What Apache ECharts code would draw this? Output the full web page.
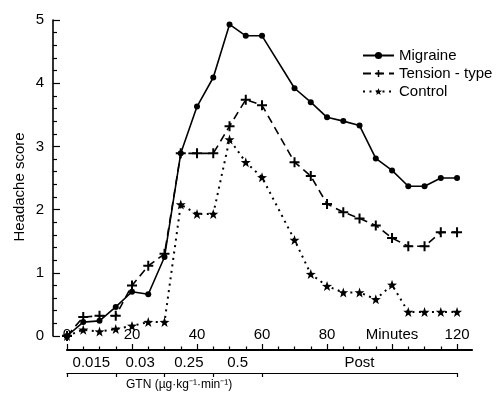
<!DOCTYPE html>
<html>
<head>
<meta charset="utf-8">
<script src="https://cdn.jsdelivr.net/npm/echarts@6/dist/echarts.min.js"></script>
<style>
html, body { margin: 0; padding: 0; background: #fff; }
#chart { width: 500px; height: 397px; }
</style>
</head>
<body>
<div id="chart"></div>
<script>
// minutes after start of the GTN infusion
var minutes = [0, 5, 10, 15, 20, 25, 30, 35, 40, 45, 50, 55, 60, 70, 75, 80, 85, 90, 95, 100, 105, 110, 115, 120];

var migraine = [0, 0.22, 0.24, 0.46, 0.70, 0.66, 1.25, 2.89, 3.63, 4.09, 4.93, 4.75, 4.75, 3.92, 3.70, 3.46, 3.40, 3.33, 2.81, 2.62, 2.37, 2.37, 2.50, 2.50];
var tension  = [0, 0.30, 0.32, 0.32, 0.80, 1.11, 1.30, 2.89, 2.89, 2.89, 3.32, 3.74, 3.65, 2.75, 2.53, 2.09, 1.96, 1.86, 1.75, 1.55, 1.42, 1.42, 1.64, 1.64];
var control  = [0, 0.10, 0.07, 0.11, 0.16, 0.22, 0.22, 2.08, 1.93, 1.93, 3.11, 2.75, 2.51, 1.52, 0.98, 0.79, 0.69, 0.69, 0.58, 0.81, 0.38, 0.38, 0.38, 0.38];

var majorTicks = [0, 20, 40, 60, 80, 100, 120];
var minorTicks = [5, 10, 15, 25, 30, 35, 45, 50, 55, 65, 70, 75, 85, 90, 95, 105, 110, 115];

// GTN dose periods
var doseBounds = [0, 15, 30, 45, 60, 120];
var doseCenters = [7.5, 22.5, 37.5, 52.5, 90];
var doseLabels = ['0.015', '0.03', '0.25', '0.5', 'Post'];

function pairs(vals) {
	var out = [];
	for (var i = 0; i < minutes.length; i++) {
		out.push([minutes[i], vals[i]]);
	}
	return out;
}

var font = 'Liberation Sans';
var starPath = 'path://M0,-100L23.5,-32.4L95.1,-30.9L38,12.4L58.8,80.9L0,40L-58.8,80.9L-38,12.4L-95.1,-30.9L-23.5,-32.4Z';
var plusPath = 'path://M4,0H6V4H10V6H6V10H4V6H0V4H4Z';
var black = { color: '#000', width: 1.2 };

function hiddenAxis(type, grid, min, max) {
	return { type: type, gridIndex: grid, min: min, max: max, show: false };
}

var myChart = echarts.init(document.getElementById('chart'));

var option = {
	animation: false,
	backgroundColor: '#fff',
	textStyle: { fontFamily: font, color: '#000' },
	legend: {
		orient: 'vertical',
		left: 357,
		top: 43,
		itemWidth: 31,
		itemHeight: 9,
		itemGap: 3,
		textStyle: { fontFamily: font, fontSize: 15, color: '#000' },
		data: ['Migraine', 'Tension - type', 'Control']
	},
	grid: [
		{ left: 67, right: 28, top: 20, bottom: 61 },   // data
		{ left: 67, right: 28, top: 20, bottom: 47 },   // minutes axis, set below the zero line
		{ left: 53, right: 28, top: 20, bottom: 61 },   // score axis, set left of time zero
		{ left: 67, right: 43, top: 360, height: 13 }   // GTN dose bracket
	],
	xAxis: [
		hiddenAxis('value', 0, 0, 124.6),
		{
			type: 'value', gridIndex: 1, min: 0, max: 124.6,
			splitLine: { show: false },
			axisLine: { onZero: false, lineStyle: { color: '#000', width: 2.2 } },
			axisTick: { inside: true, length: 6, lineStyle: black, customValues: majorTicks },
			axisLabel: {
				inside: true, margin: 8, fontSize: 15, color: '#000', fontFamily: font,
				customValues: majorTicks,
				formatter: function (v) { return v === 100 ? 'Minutes' : String(v); }
			}
		},
		{
			type: 'value', gridIndex: 1, position: 'bottom', min: 0, max: 124.6,
			splitLine: { show: false },
			axisLine: { show: false, onZero: false },
			axisTick: { inside: true, length: 3.5, lineStyle: black, customValues: minorTicks },
			axisLabel: { show: false }
		},
		hiddenAxis('value', 2, 0, 1),
		{
			type: 'value', gridIndex: 3, min: 0, max: 120,
			splitLine: { show: false },
			axisLine: { onZero: false, lineStyle: black },
			axisTick: { inside: false, length: 4, lineStyle: black, customValues: doseBounds },
			axisLabel: {
				inside: true, margin: 3, fontSize: 15, color: '#000', fontFamily: font,
				customValues: doseCenters,
				formatter: function (v) { return doseLabels[doseCenters.indexOf(v)]; }
			}
		}
	],
	yAxis: [
		hiddenAxis('value', 0, 0, 5),
		hiddenAxis('value', 1, 0, 1),
		{
			type: 'value', gridIndex: 2, min: 0, max: 5, interval: 1,
			name: 'Headache score', nameLocation: 'middle', nameGap: 26, nameMoveOverlap: false,
			nameTextStyle: { fontFamily: font, fontSize: 15, color: '#000', padding: [0, 0, 0, -18] },
			splitLine: { show: false },
			axisLine: { show: true, onZero: false, lineStyle: { color: '#000', width: 1.6 } },
			axisTick: { show: true, inside: true, length: 7, lineStyle: black },
			minorTick: { show: true, splitNumber: 5, length: 4, lineStyle: black },
			axisLabel: { margin: 9, fontSize: 15, color: '#000', fontFamily: font }
		},
		hiddenAxis('value', 3, 0, 1)
	],
	graphic: [
		{
			type: 'text', left: 126, top: 379,
			style: { text: 'GTN (\u00b5g\u00b7kg\u207b\u00b9\u00b7min\u207b\u00b9)', fontFamily: font, fontSize: 12, fill: '#000' }
		}
	],
	series: [
		{
			name: 'Migraine', type: 'line', xAxisIndex: 0, yAxisIndex: 0,
			data: pairs(migraine),
			symbol: 'circle', symbolSize: 6,
			itemStyle: { color: '#000' },
			lineStyle: { color: '#000', width: 1.6 }
		},
		{
			name: 'Tension - type', type: 'line', xAxisIndex: 0, yAxisIndex: 0,
			data: pairs(tension),
			symbol: plusPath, symbolSize: 10,
			itemStyle: { color: '#000' },
			lineStyle: { color: '#000', width: 1.6, type: [8, 5] }
		},
		{
			name: 'Control', type: 'line', xAxisIndex: 0, yAxisIndex: 0,
			data: pairs(control),
			symbol: starPath, symbolSize: 10,
			itemStyle: { color: '#000' },
			lineStyle: { color: '#000', width: 2, type: [2, 4.5] }
		}
	]
};

myChart.setOption(option);
</script>
</body>
</html>
